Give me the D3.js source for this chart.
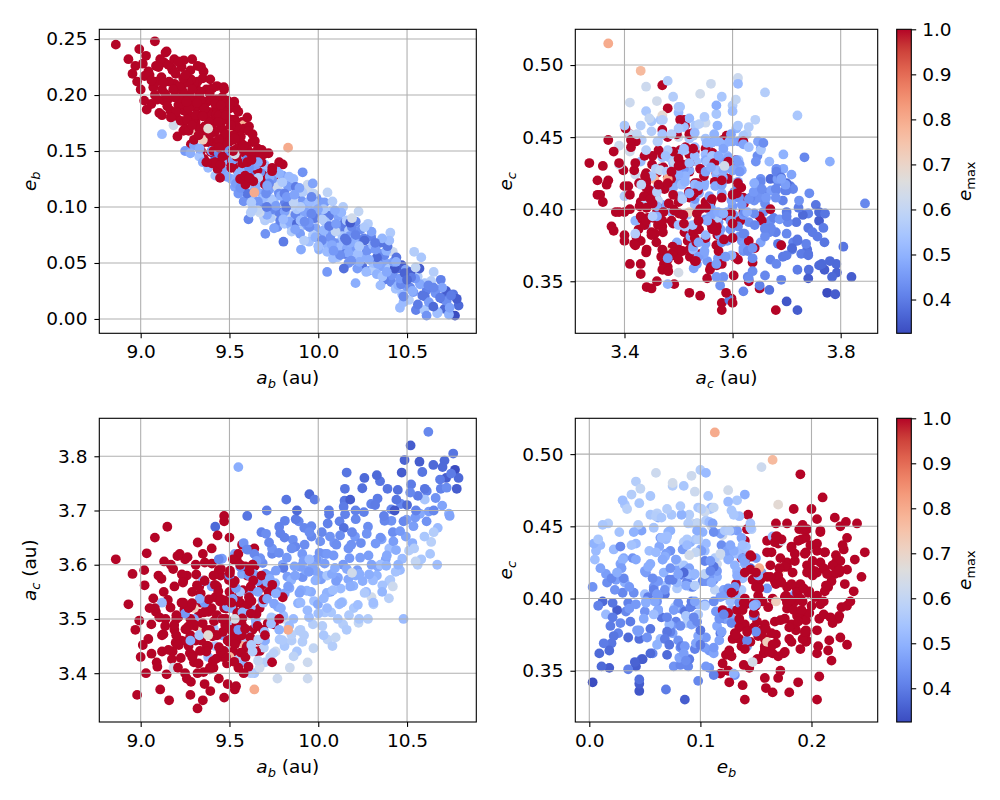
<!DOCTYPE html>
<html>
<head>
<meta charset="utf-8">
<script src="https://cdn.jsdelivr.net/npm/d3@7"></script>
<style>
  body { margin: 0; background: #fff; }
  text { font-family: "DejaVu Sans", sans-serif; fill: #000; }
</style>
</head>
<body>
<svg width="1000" height="800"></svg>
<script>
// one entry per simulated system; blocks: red (e_max = 1), light/salmon, blue, red, blue, red, blue
var ab = [
  8.86, 9.08, 8.97, 9.03, 8.98, 9.00, 9.05, 9.08, 9.10, 9.12,
  9.14, 9.15, 9.16, 9.18, 9.19, 9.20, 9.21, 9.22, 9.23, 9.24,
  9.25, 9.26, 9.27, 9.28, 9.29, 9.30, 9.30, 9.31, 9.32, 9.33,
  9.34, 9.35, 9.36, 9.37, 9.38, 9.39, 9.40, 9.41, 9.42, 9.43,
  9.44, 9.45, 9.46, 9.47, 9.47, 9.48, 9.49, 9.50, 9.51, 9.52,
  9.53, 9.54, 9.55, 9.56, 9.57, 9.58, 9.60, 9.62, 9.63, 9.65,
  9.67, 9.70, 9.72, 9.75, 9.78, 9.80, 9.06, 9.09, 9.13, 9.17,
  9.20, 9.23, 9.26, 9.28, 9.31, 9.33, 9.35, 9.36, 9.38, 9.40,
  9.42, 9.44, 9.46, 9.48, 9.50, 9.52, 9.54, 9.56, 9.58, 9.60,
  9.62, 9.64, 9.66, 9.68, 9.12, 9.24, 9.29, 9.34, 9.37, 9.39,
  9.43, 9.45, 9.49, 9.51, 9.55, 9.57, 9.59, 9.61, 9.02, 9.11,
  9.19, 9.25, 9.27, 9.32, 9.41, 9.47, 9.53, 9.63, 9.69, 9.74,
  9.28, 9.47,
  9.64, 9.50, 9.58, 9.83, 9.30, 9.38, 9.185, 9.45, 9.53, 9.72,
  9.58, 9.35, 9.81, 10.19,
  9.12, 9.30, 9.33, 9.36, 9.38, 9.40, 9.42, 9.44, 9.46, 9.48,
  9.50, 9.51, 9.46, 9.53, 9.54, 9.55, 9.56, 9.57, 9.58, 9.59,
  9.28, 9.55, 9.42, 9.35, 9.25, 9.60, 9.61, 9.62, 9.63, 9.64,
  9.65, 9.66, 9.67, 9.68, 9.69, 9.70, 9.71, 9.72, 9.73, 9.74,
  9.75, 9.77, 9.77, 9.78, 9.79, 9.80, 9.81, 9.82, 9.83, 9.84,
  9.85, 9.86, 9.87, 9.88, 9.89, 9.90, 9.91, 9.92, 9.93, 9.94,
  9.95, 9.96, 9.97, 9.98, 9.99, 10.00, 9.62, 9.70, 9.78, 9.85,
  9.94, 9.66, 9.74, 9.81, 9.88, 9.95, 9.60, 9.64, 9.76, 9.90,
  10.01, 10.02, 10.03, 10.04, 10.05, 10.06, 10.07, 10.08, 10.09, 10.10,
  10.11, 10.12, 10.13, 10.14, 10.15, 10.16, 10.17, 10.18, 10.19, 10.20,
  10.21, 10.22, 10.23, 10.24, 10.25, 10.26, 10.27, 10.28, 10.30, 10.31,
  10.32, 10.33, 10.35, 10.36, 10.37, 10.38, 10.39, 10.40, 10.16, 10.33,
  10.21, 10.05, 10.14, 10.28, 10.35, 10.42, 10.44, 10.45, 10.47, 10.48,
  10.58, 10.50, 10.48, 10.52, 10.53, 10.55, 10.56, 10.40, 10.60, 10.61,
  10.62, 10.63, 10.65, 10.67, 10.69, 10.70, 10.72, 10.74, 10.76, 10.77,
  10.78, 10.79, 10.46, 10.57, 10.65, 10.54, 10.43, 10.60, 9.95, 10.05,
  9.70, 10.42, 10.30, 10.18,
  9.043, 9.071, 9.094, 9.117, 9.138, 9.156, 9.168, 9.183, 9.197, 9.212,
  9.226, 9.238, 9.252, 9.264, 9.277, 9.289, 9.301, 9.313, 9.326, 9.338,
  9.349, 9.361, 9.372, 9.384, 9.396, 9.407, 9.418, 9.429, 9.441, 9.452,
  9.463, 9.474, 9.486, 9.497, 9.508, 9.519, 9.531, 9.542, 9.553, 9.564,
  9.576, 9.588, 9.603, 9.617, 9.634, 9.652, 9.671, 9.693, 9.716, 9.741,
  9.105, 9.146, 9.207, 9.243, 9.283, 9.321, 9.356, 9.392, 9.433, 9.468,
  9.503, 9.537, 9.571, 9.607, 9.643, 8.931, 8.954, 9.012, 8.992, 9.034,
  9.524, 9.537, 9.549, 9.561, 9.573, 9.586, 9.598, 9.611, 9.623, 9.636,
  9.648, 9.661, 9.673, 9.686, 9.698, 9.711, 9.723, 9.736, 9.748, 9.761,
  9.773, 9.786, 9.798, 9.811, 9.823, 9.836, 9.848, 9.861, 9.873, 9.886,
  9.898, 9.911, 9.923, 9.936, 9.948, 9.961, 9.973, 9.986, 9.998, 10.011,
  10.023, 10.036, 10.048, 10.061, 10.073, 10.086, 10.098, 10.111, 10.123, 10.136,
  10.148, 10.161, 10.173, 10.186, 10.198, 10.211, 10.223, 10.236, 10.248, 10.261,
  10.273, 10.286, 10.298, 10.311, 10.323, 10.336, 10.348, 10.361, 10.373, 10.386,
  10.398, 10.411, 10.423, 10.436, 10.448, 10.461, 10.473, 10.486, 10.498, 10.511,
  10.523, 10.536, 10.548, 10.561, 10.573, 10.586, 10.598, 10.611, 10.623, 10.636,
  10.648, 10.661, 10.673, 10.686, 10.698, 10.711, 10.723, 10.736, 10.748, 9.486,
  9.412, 9.332, 9.458, 9.912, 9.804, 10.052, 10.227, 10.406, 9.702, 10.144,
  9.215, 9.246, 9.268, 9.294, 9.317, 9.342, 9.366, 9.389, 9.413, 9.437,
  9.459, 9.481, 9.502, 9.526, 9.548, 9.572, 9.596, 9.624, 9.658, 9.682,
  9.128, 9.153, 9.176, 9.201, 9.232, 9.258, 9.284, 9.309, 9.334, 9.358,
  9.382, 9.404, 9.427, 9.451, 9.476, 9.498, 9.521, 9.544, 9.566, 9.589,
  9.086, 9.061, 9.022, 9.132, 9.189, 9.401, 9.613, 9.527, 9.354, 9.447,
  9.614, 9.639, 9.662, 9.687, 9.712, 9.734, 9.757, 9.779, 9.803, 9.826,
  9.849, 9.871, 9.894, 9.917, 9.939, 9.962, 9.984, 10.007, 10.031, 10.053,
  10.077, 10.102, 10.126, 10.151, 10.176, 9.627, 9.652, 9.694, 9.727, 9.751,
  9.782, 9.812, 9.838, 9.866, 9.892, 9.921, 9.947, 9.976, 10.004, 10.037,
  10.066, 10.094, 10.118, 10.143, 10.169, 9.571, 9.594, 9.518, 9.607, 9.706,
  9.761, 9.857, 9.903, 9.969, 10.016, 10.083, 10.207, 10.232, 10.257, 10.283,
  10.308, 10.334, 10.357, 10.383, 10.412, 10.438, 10.466, 10.493, 10.518, 10.546
];

var eb = [
  0.245, 0.248, 0.226, 0.235, 0.212, 0.205, 0.218, 0.200, 0.225, 0.205,
  0.238, 0.190, 0.212, 0.222, 0.198, 0.180, 0.230, 0.208, 0.192, 0.215,
  0.170, 0.200, 0.188, 0.222, 0.205, 0.160, 0.195, 0.182, 0.212, 0.200,
  0.150, 0.190, 0.172, 0.205, 0.185, 0.165, 0.195, 0.178, 0.140, 0.188,
  0.160, 0.175, 0.198, 0.155, 0.168, 0.182, 0.148, 0.170, 0.135, 0.160,
  0.178, 0.145, 0.165, 0.125, 0.152, 0.170, 0.140, 0.130, 0.158, 0.145,
  0.135, 0.120, 0.148, 0.128, 0.140, 0.138, 0.192, 0.212, 0.195, 0.180,
  0.205, 0.225, 0.178, 0.195, 0.208, 0.170, 0.215, 0.188, 0.158, 0.172,
  0.192, 0.182, 0.145, 0.165, 0.188, 0.150, 0.172, 0.140, 0.155, 0.180,
  0.148, 0.125, 0.152, 0.140, 0.182, 0.168, 0.232, 0.225, 0.140, 0.205,
  0.208, 0.138, 0.195, 0.178, 0.185, 0.132, 0.120, 0.172, 0.195, 0.232,
  0.210, 0.190, 0.168, 0.182, 0.150, 0.188, 0.142, 0.165, 0.128, 0.132,
  0.190, 0.205,
  0.113, 0.165, 0.173, 0.153, 0.168, 0.170, 0.173, 0.155, 0.147, 0.104,
  0.118, 0.160, 0.110, 0.090,
  0.165, 0.155, 0.145, 0.160, 0.135, 0.150, 0.128, 0.148, 0.140, 0.133,
  0.150, 0.125, 0.185, 0.118, 0.138, 0.112, 0.145, 0.128, 0.105, 0.135,
  0.148, 0.130, 0.145, 0.140, 0.150, 0.120, 0.135, 0.110, 0.098, 0.128,
  0.115, 0.140, 0.095, 0.122, 0.108, 0.132, 0.100, 0.115, 0.090, 0.125,
  0.105, 0.082, 0.118, 0.095, 0.110, 0.128, 0.085, 0.100, 0.118, 0.092,
  0.108, 0.125, 0.080, 0.098, 0.112, 0.088, 0.105, 0.070, 0.095, 0.115,
  0.082, 0.100, 0.075, 0.090, 0.108, 0.065, 0.095, 0.088, 0.130, 0.078,
  0.120, 0.105, 0.098, 0.112, 0.085, 0.095, 0.112, 0.130, 0.092, 0.100,
  0.090, 0.070, 0.098, 0.080, 0.060, 0.092, 0.075, 0.105, 0.068, 0.085,
  0.055, 0.078, 0.095, 0.062, 0.072, 0.088, 0.050, 0.068, 0.082, 0.058,
  0.075, 0.045, 0.065, 0.080, 0.055, 0.070, 0.042, 0.062, 0.078, 0.050,
  0.068, 0.040, 0.058, 0.072, 0.035, 0.050, 0.065, 0.045, 0.070, 0.055,
  0.032, 0.042, 0.100, 0.085, 0.030, 0.040, 0.055, 0.030, 0.048, 0.020,
  0.055, 0.035, 0.015, 0.042, 0.025, 0.008, 0.038, 0.070, 0.020, 0.003,
  0.030, 0.012, 0.028, 0.005, 0.035, 0.018, 0.025, 0.010, 0.022, 0.003,
  0.018, 0.012, 0.010, 0.045, 0.042, 0.060, 0.045, 0.032, 0.105, 0.085,
  0.125, 0.060, 0.075, 0.086,
  0.221, 0.207, 0.196, 0.216, 0.201, 0.227, 0.186, 0.205, 0.219, 0.191,
  0.177, 0.203, 0.218, 0.184, 0.199, 0.173, 0.211, 0.189, 0.164, 0.196,
  0.181, 0.158, 0.194, 0.176, 0.149, 0.185, 0.167, 0.196, 0.153, 0.171,
  0.162, 0.178, 0.141, 0.158, 0.173, 0.137, 0.161, 0.152, 0.131, 0.163,
  0.144, 0.128, 0.151, 0.137, 0.123, 0.141, 0.129, 0.147, 0.118, 0.135,
  0.184, 0.239, 0.163, 0.231, 0.156, 0.226, 0.143, 0.214, 0.134, 0.207,
  0.192, 0.188, 0.176, 0.168, 0.159, 0.232, 0.219, 0.228, 0.241, 0.187,
  0.138, 0.121, 0.146, 0.117, 0.133, 0.109, 0.142, 0.126, 0.104, 0.137,
  0.119, 0.097, 0.131, 0.112, 0.138, 0.093, 0.121, 0.107, 0.129, 0.101,
  0.115, 0.088, 0.122, 0.096, 0.109, 0.127, 0.083, 0.104, 0.118, 0.091,
  0.076, 0.113, 0.087, 0.102, 0.069, 0.094, 0.112, 0.081, 0.098, 0.073,
  0.089, 0.104, 0.067, 0.083, 0.096, 0.061, 0.078, 0.092, 0.057, 0.074,
  0.086, 0.063, 0.079, 0.052, 0.071, 0.087, 0.058, 0.069, 0.047, 0.082,
  0.061, 0.053, 0.073, 0.044, 0.062, 0.049, 0.068, 0.038, 0.057, 0.042,
  0.061, 0.033, 0.051, 0.027, 0.045, 0.036, 0.022, 0.041, 0.029, 0.017,
  0.037, 0.024, 0.046, 0.013, 0.031, 0.021, 0.008, 0.026, 0.015, 0.034,
  0.011, 0.023, 0.006, 0.019, 0.028, 0.009, 0.016, 0.004, 0.021, 0.127,
  0.141, 0.152, 0.133, 0.131, 0.069, 0.113, 0.096, 0.077, 0.076, 0.045,
  0.197, 0.186, 0.211, 0.178, 0.193, 0.167, 0.182, 0.201, 0.158, 0.176,
  0.149, 0.167, 0.159, 0.146, 0.168, 0.139, 0.154, 0.142, 0.133, 0.151,
  0.211, 0.196, 0.224, 0.185, 0.208, 0.194, 0.214, 0.176, 0.203, 0.187,
  0.169, 0.206, 0.183, 0.191, 0.152, 0.178, 0.164, 0.133, 0.157, 0.148,
  0.226, 0.213, 0.217, 0.229, 0.232, 0.139, 0.126, 0.194, 0.221, 0.126,
  0.131, 0.114, 0.126, 0.102, 0.119, 0.133, 0.097, 0.112, 0.089, 0.124,
  0.101, 0.093, 0.117, 0.084, 0.098, 0.109, 0.073, 0.094, 0.079, 0.091,
  0.066, 0.082, 0.069, 0.058, 0.074, 0.108, 0.138, 0.091, 0.127, 0.081,
  0.123, 0.104, 0.087, 0.111, 0.079, 0.097, 0.086, 0.104, 0.062, 0.087,
  0.073, 0.097, 0.064, 0.081, 0.059, 0.124, 0.137, 0.142, 0.089, 0.112,
  0.133, 0.119, 0.062, 0.121, 0.104, 0.054, 0.064, 0.051, 0.072, 0.043,
  0.066, 0.053, 0.047, 0.061, 0.039, 0.051, 0.031, 0.044, 0.028, 0.036
];

var ac = [
  3.61, 3.52, 3.48, 3.40, 3.36, 3.43, 3.52, 3.65, 3.58, 3.47,
  3.50, 3.67, 3.35, 3.44, 3.56, 3.50, 3.41, 3.62, 3.46, 3.53,
  3.40, 3.58, 3.45, 3.36, 3.55, 3.49, 3.42, 3.60, 3.335, 3.51,
  3.46, 3.35, 3.57, 3.44, 3.52, 3.48, 3.63, 3.41, 3.54, 3.47,
  3.39, 3.58, 3.43, 3.69, 3.355, 3.50, 3.46, 3.65, 3.53, 3.44,
  3.57, 3.49, 3.41, 3.60, 3.47, 3.52, 3.45, 3.56, 3.48, 3.44,
  3.52, 3.47, 3.55, 3.49, 3.50, 3.54, 3.49, 3.42, 3.55, 3.60,
  3.47, 3.53, 3.39, 3.50, 3.46, 3.56, 3.62, 3.38, 3.45, 3.52,
  3.47, 3.59, 3.50, 3.43, 3.55, 3.61, 3.46, 3.53, 3.40, 3.58,
  3.51, 3.63, 3.46, 3.58, 3.44, 3.57, 3.43, 3.53, 3.48, 3.41,
  3.56, 3.44, 3.38, 3.48, 3.62, 3.49, 3.43, 3.54, 3.59, 3.37,
  3.48, 3.61, 3.52, 3.40, 3.58, 3.52, 3.37, 3.60, 3.48, 3.42,
  3.47, 3.68,
  3.37, 3.43, 3.455, 3.48, 3.52, 3.47, 3.41, 3.61, 3.50, 3.55,
  3.47, 3.48, 3.50, 3.585,
  3.53, 3.50, 3.47, 3.53, 3.43, 3.56, 3.45, 3.61, 3.50, 3.44,
  3.58, 3.52, 3.47, 3.62, 3.46, 3.48, 3.55, 3.42, 3.64, 3.51,
  3.46, 3.78, 3.67, 3.57, 3.51, 3.47, 3.58, 3.52, 3.44, 3.62,
  3.49, 3.55, 3.41, 3.66, 3.53, 3.46, 3.70, 3.58, 3.43, 3.63,
  3.50, 3.55, 3.39, 3.67, 3.52, 3.60, 3.45, 3.72, 3.56, 3.41,
  3.63, 3.50, 3.58, 3.44, 3.68, 3.53, 3.62, 3.47, 3.59, 3.42,
  3.66, 3.55, 3.49, 3.72, 3.61, 3.51, 3.40, 3.42, 3.48, 3.46,
  3.39, 3.57, 3.62, 3.65, 3.70, 3.73, 3.69, 3.40, 3.44, 3.48,
  3.58, 3.66, 3.47, 3.62, 3.52, 3.70, 3.55, 3.45, 3.64, 3.57,
  3.50, 3.68, 3.53, 3.60, 3.74, 3.48, 3.63, 3.56, 3.66, 3.52,
  3.70, 3.59, 3.50, 3.64, 3.57, 3.76, 3.55, 3.67, 3.60, 3.53,
  3.71, 3.58, 3.65, 3.55, 3.69, 3.61, 3.74, 3.57, 3.77, 3.765,
  3.58, 3.62, 3.49, 3.50, 3.60, 3.66, 3.72, 3.60, 3.77, 3.68,
  3.61, 3.71, 3.50, 3.82, 3.64, 3.70, 3.60, 3.63, 3.74, 3.68,
  3.845, 3.62, 3.70, 3.60, 3.74, 3.78, 3.76, 3.69, 3.805, 3.775,
  3.74, 3.76, 3.59, 3.79, 3.66, 3.63, 3.70, 3.72, 3.61, 3.58,
  3.46, 3.56, 3.54, 3.72,
  3.463, 3.538, 3.412, 3.574, 3.487, 3.443, 3.521, 3.592, 3.456, 3.503,
  3.428, 3.567, 3.481, 3.614, 3.437, 3.529, 3.462, 3.582, 3.418, 3.547,
  3.492, 3.604, 3.451, 3.536, 3.474, 3.422, 3.563, 3.507, 3.448, 3.592,
  3.476, 3.534, 3.418, 3.572, 3.463, 3.521, 3.453, 3.608, 3.497, 3.438,
  3.553, 3.482, 3.527, 3.466, 3.571, 3.509, 3.441, 3.536, 3.492, 3.563,
  3.503, 3.398, 3.616, 3.527, 3.384, 3.641, 3.512, 3.367, 3.654, 3.441,
  3.589, 3.376, 3.637, 3.412, 3.598, 3.527, 3.583, 3.452, 3.497, 3.621,
  3.489, 3.557, 3.432, 3.596, 3.512, 3.467, 3.628, 3.541, 3.452, 3.583,
  3.497, 3.423, 3.612, 3.534, 3.476, 3.568, 3.641, 3.503, 3.437, 3.589,
  3.522, 3.658, 3.461, 3.547, 3.613, 3.487, 3.572, 3.431, 3.684, 3.529,
  3.596, 3.458, 3.637, 3.552, 3.503, 3.671, 3.446, 3.588, 3.527, 3.643,
  3.487, 3.602, 3.548, 3.693, 3.512, 3.617, 3.466, 3.576, 3.654, 3.531,
  3.718, 3.592, 3.507, 3.637, 3.561, 3.684, 3.526, 3.613, 3.741, 3.548,
  3.657, 3.582, 3.712, 3.527, 3.639, 3.596, 3.754, 3.562, 3.681, 3.617,
  3.538, 3.702, 3.643, 3.587, 3.738, 3.662, 3.611, 3.793, 3.683, 3.626,
  3.748, 3.671, 3.606, 3.727, 3.694, 3.771, 3.652, 3.736, 3.698, 3.642,
  3.784, 3.723, 3.668, 3.757, 3.709, 3.792, 3.742, 3.694, 3.768, 3.523,
  3.482, 3.537, 3.611, 3.577, 3.594, 3.462, 3.493, 3.572, 3.583, 3.668,
  3.452, 3.517, 3.486, 3.433, 3.562, 3.471, 3.528, 3.407, 3.496, 3.551,
  3.437, 3.519, 3.584, 3.472, 3.541, 3.501, 3.447, 3.533, 3.487, 3.558,
  3.472, 3.535, 3.426, 3.507, 3.582, 3.459, 3.524, 3.487, 3.441, 3.571,
  3.513, 3.468, 3.427, 3.537, 3.489, 3.458, 3.566, 3.511, 3.473, 3.597,
  3.513, 3.436, 3.562, 3.606, 3.489, 3.602, 3.588, 3.421, 3.402, 3.532,
  3.512, 3.574, 3.462, 3.603, 3.537, 3.491, 3.566, 3.622, 3.506, 3.578,
  3.471, 3.633, 3.548, 3.607, 3.516, 3.652, 3.571, 3.622, 3.538, 3.676,
  3.583, 3.637, 3.556, 3.693, 3.612, 3.553, 3.607, 3.447, 3.574, 3.528,
  3.462, 3.681, 3.557, 3.597, 3.478, 3.668, 3.587, 3.533, 3.607, 3.512,
  3.652, 3.594, 3.527, 3.707, 3.573, 3.583, 3.461, 3.537, 3.628, 3.657,
  3.547, 3.646, 3.553, 3.598, 3.573, 3.553, 3.652, 3.583, 3.697, 3.617,
  3.571, 3.722, 3.647, 3.598, 3.681, 3.627, 3.712, 3.652, 3.733, 3.687
];

var ec = [
  0.415, 0.432, 0.450, 0.398, 0.405, 0.378, 0.412, 0.395, 0.420, 0.438,
  0.405, 0.400, 0.420, 0.425, 0.390, 0.372, 0.410, 0.447, 0.398, 0.364,
  0.416, 0.420, 0.384, 0.430, 0.402, 0.440, 0.376, 0.410, 0.432, 0.462,
  0.395, 0.410, 0.385, 0.418, 0.426, 0.368, 0.378, 0.452, 0.400, 0.388,
  0.432, 0.362, 0.405, 0.375, 0.410, 0.435, 0.395, 0.345, 0.380, 0.415,
  0.425, 0.370, 0.400, 0.390, 0.358, 0.438, 0.382, 0.405, 0.365, 0.420,
  0.372, 0.392, 0.380, 0.400, 0.365, 0.340, 0.390, 0.432, 0.442, 0.380,
  0.455, 0.418, 0.398, 0.370, 0.425, 0.360, 0.408, 0.440, 0.345, 0.412,
  0.372, 0.395, 0.430, 0.362, 0.405, 0.418, 0.350, 0.440, 0.378, 0.335,
  0.390, 0.350, 0.402, 0.330, 0.370, 0.375, 0.395, 0.388, 0.418, 0.362,
  0.446, 0.392, 0.385, 0.422, 0.398, 0.410, 0.355, 0.428, 0.432, 0.420,
  0.470, 0.365, 0.452, 0.382, 0.408, 0.342, 0.448, 0.335, 0.360, 0.375,
  0.486, 0.330,
  0.515, 0.496, 0.421, 0.421, 0.398, 0.465, 0.440, 0.491, 0.356, 0.460,
  0.430, 0.370, 0.450, 0.430,
  0.443, 0.418, 0.452, 0.407, 0.433, 0.396, 0.461, 0.388, 0.424, 0.468,
  0.377, 0.427, 0.403, 0.445, 0.414, 0.366, 0.449, 0.392, 0.412, 0.457,
  0.395, 0.433, 0.421, 0.472, 0.428, 0.436, 0.397, 0.463, 0.441, 0.383,
  0.415, 0.426, 0.474, 0.386, 0.453, 0.402, 0.368, 0.419, 0.458, 0.407,
  0.438, 0.393, 0.431, 0.365, 0.411, 0.447, 0.423, 0.378, 0.401, 0.452,
  0.352, 0.467, 0.417, 0.389, 0.413, 0.437, 0.373, 0.462, 0.398, 0.424,
  0.381, 0.434, 0.478, 0.358, 0.415, 0.442, 0.409, 0.383, 0.348, 0.412,
  0.444, 0.353, 0.343, 0.347, 0.418, 0.396, 0.422, 0.458, 0.485, 0.489,
  0.421, 0.387, 0.463, 0.371, 0.432, 0.398, 0.376, 0.454, 0.406, 0.362,
  0.471, 0.384, 0.417, 0.402, 0.368, 0.441, 0.391, 0.429, 0.354, 0.449,
  0.413, 0.378, 0.456, 0.397, 0.424, 0.361, 0.438, 0.392, 0.427, 0.403,
  0.372, 0.446, 0.408, 0.382, 0.351, 0.419, 0.387, 0.466, 0.377, 0.362,
  0.411, 0.396, 0.433, 0.439, 0.468, 0.404, 0.379, 0.427, 0.358, 0.414,
  0.458, 0.373, 0.389, 0.353, 0.418, 0.395, 0.472, 0.443, 0.369, 0.408,
  0.404, 0.451, 0.383, 0.427, 0.397, 0.364, 0.392, 0.421, 0.374, 0.342,
  0.352, 0.398, 0.437, 0.341, 0.481, 0.457, 0.336, 0.465, 0.487, 0.478,
  0.475, 0.487, 0.480, 0.330,
  0.417, 0.386, 0.448, 0.371, 0.426, 0.394, 0.408, 0.433, 0.383, 0.441,
  0.402, 0.419, 0.357, 0.392, 0.437, 0.411, 0.389, 0.448, 0.376, 0.423,
  0.399, 0.367, 0.431, 0.386, 0.414, 0.381, 0.439, 0.371, 0.407, 0.421,
  0.363, 0.397, 0.427, 0.382, 0.441, 0.367, 0.394, 0.411, 0.376, 0.423,
  0.352, 0.404, 0.384, 0.428, 0.361, 0.396, 0.372, 0.413, 0.348, 0.386,
  0.462, 0.427, 0.415, 0.453, 0.398, 0.373, 0.458, 0.417, 0.392, 0.346,
  0.451, 0.388, 0.363, 0.443, 0.338, 0.442, 0.423, 0.437, 0.452, 0.404,
  0.433, 0.402, 0.448, 0.386, 0.419, 0.462, 0.371, 0.428, 0.395, 0.442,
  0.377, 0.452, 0.408, 0.362, 0.437, 0.416, 0.389, 0.471, 0.403, 0.433,
  0.381, 0.412, 0.447, 0.369, 0.426, 0.398, 0.458, 0.417, 0.376, 0.439,
  0.392, 0.428, 0.357, 0.446, 0.409, 0.387, 0.463, 0.421, 0.374, 0.433,
  0.452, 0.396, 0.418, 0.367, 0.441, 0.403, 0.427, 0.382, 0.414, 0.458,
  0.391, 0.436, 0.407, 0.373, 0.446, 0.419, 0.389, 0.431, 0.358, 0.464,
  0.398, 0.422, 0.377, 0.451, 0.412, 0.386, 0.403, 0.437, 0.362, 0.427,
  0.459, 0.391, 0.418, 0.446, 0.372, 0.408, 0.434, 0.356, 0.421, 0.452,
  0.384, 0.413, 0.476, 0.369, 0.428, 0.397, 0.441, 0.376, 0.417, 0.462,
  0.353, 0.406, 0.433, 0.381, 0.424, 0.362, 0.411, 0.438, 0.387, 0.387,
  0.436, 0.416, 0.447, 0.347, 0.337, 0.406, 0.432, 0.394, 0.353, 0.344,
  0.404, 0.378, 0.421, 0.393, 0.407, 0.384, 0.436, 0.416, 0.372, 0.401,
  0.389, 0.412, 0.379, 0.429, 0.369, 0.397, 0.413, 0.377, 0.392, 0.358,
  0.398, 0.418, 0.386, 0.431, 0.396, 0.377, 0.409, 0.422, 0.401, 0.388,
  0.443, 0.367, 0.418, 0.392, 0.374, 0.408, 0.432, 0.384, 0.362, 0.397,
  0.426, 0.409, 0.387, 0.434, 0.368, 0.354, 0.342, 0.447, 0.456, 0.364,
  0.423, 0.391, 0.447, 0.412, 0.377, 0.431, 0.452, 0.398, 0.417, 0.386,
  0.462, 0.408, 0.371, 0.434, 0.396, 0.419, 0.447, 0.383, 0.411, 0.394,
  0.427, 0.366, 0.441, 0.406, 0.381, 0.364, 0.428, 0.408, 0.437, 0.359,
  0.391, 0.426, 0.409, 0.452, 0.426, 0.384, 0.367, 0.433, 0.456, 0.388,
  0.421, 0.447, 0.372, 0.416, 0.398, 0.433, 0.406, 0.367, 0.353, 0.446,
  0.416, 0.437, 0.392, 0.406, 0.366, 0.433, 0.442, 0.397, 0.413, 0.378,
  0.427, 0.401, 0.447, 0.368, 0.428, 0.398, 0.414, 0.377, 0.436, 0.393
];

var emax = [
  1, 1, 1, 1, 1, 1, 1, 1, 1, 1,
  1, 1, 1, 1, 1, 1, 1, 1, 1, 1,
  1, 1, 1, 1, 1, 1, 1, 1, 1, 1,
  1, 1, 1, 1, 1, 1, 1, 1, 1, 1,
  1, 1, 1, 1, 1, 1, 1, 1, 1, 1,
  1, 1, 1, 1, 1, 1, 1, 1, 1, 1,
  1, 1, 1, 1, 1, 1, 1, 1, 1, 1,
  1, 1, 1, 1, 1, 1, 1, 1, 1, 1,
  1, 1, 1, 1, 1, 1, 1, 1, 1, 1,
  1, 1, 1, 1, 1, 1, 1, 1, 1, 1,
  1, 1, 1, 1, 1, 1, 1, 1, 1, 1,
  1, 1, 1, 1, 1, 1, 1, 1, 1, 1,
  1, 1,
  0.80, 0.77, 0.78, 0.80, 0.72, 0.68, 0.63, 0.62, 0.64, 0.62,
  0.64, 0.72, 0.63, 0.63,
  0.52, 0.47, 0.54, 0.45, 0.52, 0.47, 0.55, 0.42, 0.49, 0.55,
  0.43, 0.49, 0.47, 0.47, 0.52, 0.45, 0.54, 0.50, 0.44, 0.53,
  0.49, 0.49, 0.37, 0.49, 0.45, 0.54, 0.44, 0.52, 0.57, 0.42,
  0.49, 0.47, 0.62, 0.41, 0.52, 0.49, 0.40, 0.46, 0.57, 0.44,
  0.52, 0.44, 0.62, 0.41, 0.49, 0.47, 0.55, 0.39, 0.46, 0.62,
  0.43, 0.52, 0.47, 0.55, 0.42, 0.52, 0.45, 0.57, 0.47, 0.62,
  0.43, 0.49, 0.57, 0.40, 0.45, 0.53, 0.57, 0.57, 0.50, 0.57,
  0.62, 0.45, 0.42, 0.41, 0.37, 0.37, 0.39, 0.55, 0.62, 0.57,
  0.47, 0.42, 0.55, 0.44, 0.52, 0.40, 0.47, 0.57, 0.44, 0.46,
  0.55, 0.41, 0.51, 0.45, 0.39, 0.56, 0.44, 0.49, 0.42, 0.55,
  0.41, 0.46, 0.55, 0.43, 0.49, 0.37, 0.52, 0.43, 0.47, 0.53,
  0.40, 0.50, 0.44, 0.51, 0.41, 0.47, 0.39, 0.55, 0.39, 0.37,
  0.49, 0.45, 0.57, 0.57, 0.53, 0.43, 0.39, 0.50, 0.35, 0.42,
  0.55, 0.37, 0.52, 0.35, 0.49, 0.41, 0.57, 0.53, 0.39, 0.44,
  0.42, 0.55, 0.42, 0.53, 0.41, 0.37, 0.35, 0.47, 0.39, 0.325,
  0.35, 0.37, 0.52, 0.35, 0.57, 0.57, 0.34, 0.55, 0.52, 0.55,
  0.63, 0.62, 0.63, 0.35,
  1, 1, 1, 1, 1, 1, 1, 1, 1, 1,
  1, 1, 1, 1, 1, 1, 1, 1, 1, 1,
  1, 1, 1, 1, 1, 1, 1, 1, 1, 1,
  1, 1, 1, 1, 1, 1, 1, 1, 1, 1,
  1, 1, 1, 1, 1, 1, 1, 1, 1, 1,
  1, 1, 1, 1, 1, 1, 1, 1, 1, 1,
  1, 1, 1, 1, 1, 1, 1, 1, 1, 1,
  0.52, 0.46, 0.57, 0.44, 0.50, 0.55, 0.42, 0.48, 0.56, 0.47,
  0.49, 0.60, 0.44, 0.47, 0.53, 0.48, 0.42, 0.55, 0.58, 0.46,
  0.48, 0.41, 0.56, 0.47, 0.45, 0.52, 0.50, 0.59, 0.40, 0.50,
  0.46, 0.57, 0.43, 0.50, 0.53, 0.42, 0.60, 0.47, 0.48, 0.44,
  0.57, 0.46, 0.50, 0.40, 0.55, 0.45, 0.60, 0.47, 0.43, 0.55,
  0.39, 0.48, 0.56, 0.44, 0.50, 0.42, 0.53, 0.46, 0.38, 0.56,
  0.44, 0.49, 0.41, 0.57, 0.45, 0.48, 0.39, 0.54, 0.42, 0.48,
  0.58, 0.42, 0.46, 0.54, 0.38, 0.45, 0.52, 0.36, 0.46, 0.57,
  0.40, 0.46, 0.60, 0.40, 0.48, 0.39, 0.55, 0.41, 0.46, 0.58,
  0.37, 0.44, 0.52, 0.40, 0.47, 0.37, 0.43, 0.50, 0.40, 0.47,
  0.54, 0.49, 0.46, 0.44, 0.40, 0.59, 0.60, 0.56, 0.44, 0.38,
  1, 1, 1, 1, 1, 1, 1, 1, 1, 1,
  1, 1, 1, 1, 1, 1, 1, 1, 1, 1,
  1, 1, 1, 1, 1, 1, 1, 1, 1, 1,
  1, 1, 1, 1, 1, 1, 1, 1, 1, 1,
  1, 1, 1, 1, 1, 1, 1, 1, 1, 1,
  0.50, 0.45, 0.57, 0.43, 0.47, 0.53, 0.50, 0.43, 0.52, 0.46,
  0.58, 0.42, 0.47, 0.46, 0.52, 0.42, 0.50, 0.44, 0.51, 0.41,
  0.48, 0.43, 0.52, 0.41, 0.45, 0.45, 0.46, 0.58, 0.48, 0.47,
  0.56, 0.41, 0.48, 0.47, 0.57, 0.42, 0.45, 0.53, 0.50, 0.55,
  0.44, 0.49, 0.52, 0.40, 0.48, 0.47, 0.55, 0.46, 0.42, 0.43,
  0.49, 0.43, 0.48, 0.47, 0.46, 0.53, 0.45, 0.49, 0.41, 0.46,
  0.52, 0.40, 0.47, 0.50, 0.44, 0.49, 0.42, 0.47, 0.42, 0.45
];

// tick values
var abTicks = [9.0, 9.5, 10.0, 10.5];
var ebTicks = [0.00, 0.05, 0.10, 0.15, 0.20, 0.25];
var acTicks = [3.4, 3.5, 3.6, 3.7, 3.8];
var acTicksTop = [3.4, 3.6, 3.8];
var ecTicks = [0.35, 0.40, 0.45, 0.50];
var ebTicksBottom = [0.0, 0.1, 0.2];
var cbarTicks = [0.4, 0.5, 0.6, 0.7, 0.8, 0.9, 1.0];

// matplotlib "coolwarm"
var coolwarm = ["#3b4cc0", "#4d68d7", "#6282ea", "#779af7", "#8db0fe", "#a3c2ff",
                "#b8d0f9", "#ccd9ee", "#dddddd", "#ecd3c5", "#f5c4ac", "#f7b193",
                "#f49a7b", "#ec7f63", "#de604d", "#cb3e38", "#b40426"];

function main() {
    var svg = d3.select("svg");
    var fs = 18.5;
    var cmap = d3.piecewise(d3.interpolateRgb, coolwarm);
    var color = d3.scaleSequential(cmap).domain(d3.extent(emax));

    var n = d3.min([ab.length, eb.length, ac.length, ec.length, emax.length]);
    // mix the draw order so no group sits fully on top
    var step = 37;
    while (n % step === 0) step += 2;
    var order = [];
    for (var k = 0; k < n; k++) order.push((k * step) % n);

    var defs = svg.append("defs");

    // label with italic symbol + subscript + plain tail
    function mathLabel(sel, sym, sub, subItalic, tail) {
        sel.append("tspan").style("font-style", "italic").text(sym);
        sel.append("tspan")
            .style("font-style", subItalic ? "italic" : "normal")
            .attr("font-size", fs * 0.7)
            .attr("dy", 4)
            .text(sub);
        if (tail) {
            sel.append("tspan").attr("dy", -4).text(tail);
        }
    }

    function panel(id, left, top, w, h, xdom, ydom, xv, yv, xt, xfmt, yt, yfmt, xl, yl) {
        var x = d3.scaleLinear().domain(xdom).range([left, left + w]);
        var y = d3.scaleLinear().domain(ydom).range([top + h, top]);

        defs.append("clipPath").attr("id", "clip" + id)
            .append("rect").attr("x", left).attr("y", top).attr("width", w).attr("height", h);

        var g = svg.append("g");

        g.append("g").attr("clip-path", "url(#clip" + id + ")")
            .selectAll("circle")
            .data(order)
            .enter().append("circle")
            .attr("cx", function(i) { return x(xv[i]); })
            .attr("cy", function(i) { return y(yv[i]); })
            .attr("r", 4.9)
            .attr("fill", function(i) { return color(emax[i]); });

        // grid sits above the markers, as in matplotlib's default zorder
        g.selectAll(".gx").data(xt).enter().append("line")
            .attr("x1", x).attr("x2", x).attr("y1", top).attr("y2", top + h)
            .attr("stroke", "#b0b0b0").attr("stroke-width", 1.1);
        g.selectAll(".gy").data(yt).enter().append("line")
            .attr("y1", y).attr("y2", y).attr("x1", left).attr("x2", left + w)
            .attr("stroke", "#b0b0b0").attr("stroke-width", 1.1);

        var xAxis = g.append("g").attr("transform", "translate(0," + (top + h) + ")")
            .call(d3.axisBottom(x).tickValues(xt).tickFormat(d3.format(xfmt)).tickSizeOuter(0).tickSize(4.9).tickPadding(7));
        var yAxis = g.append("g").attr("transform", "translate(" + left + ",0)")
            .call(d3.axisLeft(y).tickValues(yt).tickFormat(d3.format(yfmt)).tickSizeOuter(0).tickSize(4.9).tickPadding(7));
        [xAxis, yAxis].forEach(function(a) {
            a.select(".domain").remove();
            a.selectAll("line").attr("stroke", "#000").attr("stroke-width", 1.1);
            a.selectAll("text").attr("font-size", fs).attr("font-family", "DejaVu Sans").attr("fill", "#000");
        });

        g.append("rect").attr("x", left).attr("y", top).attr("width", w).attr("height", h)
            .attr("fill", "none").attr("stroke", "#000").attr("stroke-width", 1.1);

        var tx = g.append("text").attr("x", left + w / 2).attr("y", top + h + 51)
            .attr("text-anchor", "middle").attr("font-size", fs);
        mathLabel(tx, xl[0], xl[1], true, xl[2]);

        var ty = g.append("text")
            .attr("transform", "translate(" + (left - 63) + "," + (top + h / 2) + ") rotate(-90)")
            .attr("text-anchor", "middle").attr("font-size", fs);
        mathLabel(ty, yl[0], yl[1], true, yl[2]);
    }

    function colorbar(id, top, h) {
        var left = 896.7, w = 14.6;
        var dom = color.domain();
        var cy = d3.scaleLinear().domain(dom).range([top + h, top]);
        var grad = defs.append("linearGradient").attr("id", "grad" + id)
            .attr("x1", 0).attr("y1", 1).attr("x2", 0).attr("y2", 0);
        d3.range(0, 1.0001, 0.025).forEach(function(t) {
            grad.append("stop").attr("offset", t).attr("stop-color", cmap(t));
        });
        var g = svg.append("g");
        g.append("rect").attr("x", left).attr("y", top).attr("width", w).attr("height", h)
            .attr("fill", "url(#grad" + id + ")").attr("stroke", "#000").attr("stroke-width", 1.1);
        var ax = g.append("g").attr("transform", "translate(" + (left + w) + ",0)")
            .call(d3.axisRight(cy).tickValues(cbarTicks).tickFormat(d3.format(".1f")).tickSizeOuter(0).tickSize(4.9).tickPadding(6));
        ax.select(".domain").remove();
        ax.selectAll("line").attr("stroke", "#000").attr("stroke-width", 1.1);
        ax.selectAll("text").attr("font-size", fs).attr("font-family", "DejaVu Sans").attr("fill", "#000");

        var t = g.append("text")
            .attr("transform", "translate(971," + (top + h / 2) + ") rotate(-90)")
            .attr("text-anchor", "middle").attr("font-size", fs);
        mathLabel(t, "e", "max", false, null);
    }

    panel(1, 99.3, 29.3, 377, 304, [8.767, 10.890], [-0.0128, 0.2587], ab, eb,
          abTicks, ".1f", ebTicks, ".2f", ["a", "b", " (au)"], ["e", "b", null]);
    panel(2, 575.3, 29.3, 302.4, 304, [3.309, 3.8685], [0.3139, 0.5248], ac, ec,
          acTicksTop, ".1f", ecTicks, ".2f", ["a", "c", " (au)"], ["e", "c", null]);
    panel(3, 99.3, 418.3, 377, 303.7, [8.767, 10.890], [3.310, 3.870], ab, ac,
          abTicks, ".1f", acTicks, ".1f", ["a", "b", " (au)"], ["a", "c", " (au)"]);
    panel(4, 575.3, 418.3, 302.4, 303.7, [-0.0126, 0.2596], [0.3145, 0.5248], eb, ec,
          ebTicksBottom, ".1f", ecTicks, ".2f", ["e", "b", null], ["e", "c", null]);

    colorbar(1, 29.3, 304);
    colorbar(2, 418.3, 303.7);
}

main();
</script>
</body>
</html>
